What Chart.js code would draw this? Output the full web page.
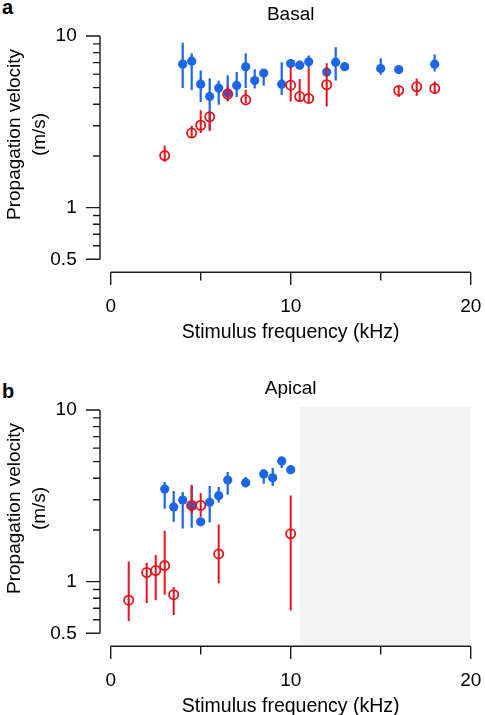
<!DOCTYPE html>
<html>
<head>
<meta charset="utf-8">
<script src="https://cdn.jsdelivr.net/npm/chart.js@4/dist/chart.umd.min.js"></script>
<style>
  html, body { margin: 0; padding: 0; background: #fff; }
  body { width: 485px; height: 715px; overflow: hidden; position: relative; font-family: "Liberation Sans", Arial, sans-serif; }
  canvas { position: absolute; left: 0; }
  .lbl { position: absolute; left: 2px; font-weight: bold; font-size: 20px; line-height: 20px; color: #000; }
</style>
</head>
<body>
<div class="lbl" style="top:-3px">a</div>
<div class="lbl" style="top:381px">b</div>
<canvas id="chartA" width="485" height="342" style="top:0px"></canvas>
<canvas id="chartB" width="485" height="342" style="top:374px"></canvas>
<script>
// ---------- Data ----------
const xTicks = [0, 10, 20];
const xMinorTicks = [5, 15];
const yTicks = [0.5, 1, 10];
const yMinorTicks = [0.6, 0.7, 0.8, 0.9, 2, 3, 4, 5, 6, 7, 8, 9];

// Panel a: Basal
const basalBlueX  = [4, 4.5, 5, 5.5, 6, 6.5, 7, 7.5, 8, 8.5, 9.5, 10, 10.5, 11, 12, 12.5, 13, 15, 16, 18];
const basalBlueY  = [6.85, 7.13, 5.24, 4.44, 4.97, 4.65, 5.15, 6.61, 5.5, 6.08, 5.24, 6.91, 6.76, 7.07, 6.16, 7.04, 6.63, 6.46, 6.37, 6.85];
const basalBlueLo = [4.97, 4.85, 4.12, 2.85, 3.98, 4.25, 4.41, 4.97, 4.95, 5.13, 4.53, 6.6, 6.41, 6.48, 5.8, 5.5, 6.3, 5.94, 6.1, 6.21];
const basalBlueHi = [9.14, 7.93, 6.29, 5.68, 5.48, 5.91, 6.16, 7.93, 6.41, 6.35, 7.04, 7.26, 7.18, 7.69, 6.6, 8.6, 7.0, 7.42, 6.6, 7.79];

const basalRedX  = [3, 4.5, 5, 5.5, 6.5, 7.5, 10, 10.5, 11, 12, 16, 17, 18];
const basalRedY  = [2.01, 2.72, 3.02, 3.38, 4.58, 4.25, 5.17, 4.44, 4.33, 5.2, 4.82, 5.06, 4.95];
const basalRedLo = [1.85, 2.55, 2.72, 2.8, 4.15, 4.07, 4.16, 4.16, 4.07, 3.89, 4.41, 4.49, 4.6];
const basalRedHi = [2.3, 3.0, 3.69, 3.63, 5.1, 4.86, 6.63, 5.61, 6.49, 6.94, 5.13, 5.65, 5.43];

// Panel b: Apical
const apicalBlueX  = [3, 3.5, 4, 4.5, 5, 5.5, 6, 6.5, 7.5, 8.5, 9, 9.5, 10];
const apicalBlueY  = [3.46, 2.72, 2.99, 2.78, 2.23, 2.9, 3.17, 3.91, 3.77, 4.24, 4.03, 5.04, 4.49];
const apicalBlueLo = [2.66, 2.23, 2.04, 2.06, 2.15, 2.21, 2.89, 3.21, 3.54, 3.72, 3.61, 4.59, 4.3];
const apicalBlueHi = [3.81, 3.37, 3.33, 3.6, 2.35, 3.61, 3.56, 4.35, 4.07, 4.51, 4.59, 5.36, 4.7];

const apicalRedX  = [1, 2, 2.5, 3, 3.5, 4.5, 5, 6, 10];
const apicalRedY  = [0.78, 1.13, 1.16, 1.24, 0.84, 2.78, 2.78, 1.45, 1.9];
const apicalRedLo = [0.59, 0.75, 0.78, 0.84, 0.64, 2.5, 2.38, 0.98, 0.68];
const apicalRedHi = [1.31, 1.29, 1.43, 1.98, 0.93, 3.67, 3.28, 2.15, 3.18];

const apicalShade = [10.5, 20];   // x-range of grey region (kHz)

// ---------- Styles ----------
const BLUE = '#1c64e8';
const RED = '#e2141c';
const AXIS = '#1a1a1a';
const FONT = '"Liberation Sans", Arial, Helvetica, sans-serif';
Chart.defaults.font.family = FONT;
Chart.defaults.color = '#000';
const TITLE_SHIFT = '     '; // leading spaces nudge the rotated axis title upward

function pts(xs, ys) { return xs.map((x, i) => ({ x: x, y: ys[i] })); }

const errorBarPlugin = {
  id: 'errorBars',
  beforeDatasetDraw(chart, args) {
    const ds = chart.data.datasets[args.index];
    if (!ds.errLo) return;
    const xs = chart.scales.x, ys = chart.scales.y, ctx = chart.ctx;
    ctx.save();
    ctx.strokeStyle = ds.errColor;
    ctx.lineWidth = ds.errWidth;
    ctx.lineCap = 'butt';
    ctx.beginPath();
    ds.data.forEach((p, i) => {
      const px = xs.getPixelForValue(p.x);
      ctx.moveTo(px, ys.getPixelForValue(ds.errLo[i]));
      ctx.lineTo(px, ys.getPixelForValue(ds.errHi[i]));
    });
    ctx.stroke();
    ctx.restore();
  }
};

const axesPlugin = {
  id: 'offsetAxes',
  beforeDatasetsDraw(chart) {
    const xs = chart.scales.x, ys = chart.scales.y, ctx = chart.ctx;
    const area = chart.chartArea;
    const yAxisX = area.left - 10.7;
    const xAxisY = area.bottom + 13;
    ctx.save();
    const shade = chart.options.plugins.offsetAxes && chart.options.plugins.offsetAxes.shade;
    if (shade) {
      const x0 = xs.getPixelForValue(shade[0]);
      const x1 = xs.getPixelForValue(shade[1]);
      ctx.fillStyle = '#f4f4f4';
      ctx.fillRect(x0, area.top - 3, x1 - x0, xAxisY - 1.5 - (area.top - 3));
    }
    ctx.strokeStyle = AXIS;
    ctx.lineWidth = 1.4;
    ctx.lineCap = 'butt';
    ctx.beginPath();
    // y axis line
    ctx.moveTo(yAxisX, ys.getPixelForValue(yTicks[yTicks.length - 1]));
    ctx.lineTo(yAxisX, ys.getPixelForValue(yTicks[0]));
    yTicks.forEach(v => { const py = ys.getPixelForValue(v); ctx.moveTo(yAxisX, py); ctx.lineTo(yAxisX - 14, py); });
    yMinorTicks.forEach(v => { const py = ys.getPixelForValue(v); ctx.moveTo(yAxisX, py); ctx.lineTo(yAxisX - 7, py); });
    // x axis line
    ctx.moveTo(xs.getPixelForValue(xTicks[0]), xAxisY);
    ctx.lineTo(xs.getPixelForValue(xTicks[xTicks.length - 1]), xAxisY);
    xTicks.forEach(v => { const px = xs.getPixelForValue(v); ctx.moveTo(px, xAxisY); ctx.lineTo(px, xAxisY + 12.7); });
    xMinorTicks.forEach(v => { const px = xs.getPixelForValue(v); ctx.moveTo(px, xAxisY); ctx.lineTo(px, xAxisY + 8.3); });
    ctx.stroke();
    ctx.restore();
  }
};

function makeChart(id, title, redX, redY, redLo, redHi, blueX, blueY, blueLo, blueHi, shade) {
  return new Chart(document.getElementById(id), {
    type: 'scatter',
    data: {
      datasets: [
        {
          data: pts(redX, redY), errLo: redLo, errHi: redHi, errColor: RED, errWidth: 2,
          pointStyle: 'circle', pointRadius: 4.6, pointBorderWidth: 1.8,
          pointBorderColor: RED, pointBackgroundColor: 'rgba(255,255,255,0)', showLine: false
        },
        {
          data: pts(blueX, blueY), errLo: blueLo, errHi: blueHi, errColor: BLUE, errWidth: 2.2,
          pointStyle: 'circle', pointRadius: 4.6, pointBorderWidth: 0,
          pointBorderColor: BLUE, pointBackgroundColor: BLUE, showLine: false
        }
      ]
    },
    options: {
      responsive: false,
      animation: false,
      events: [],
      layout: { padding: { left: 0, right: 14.3, top: 0, bottom: 0 } },
      plugins: {
        legend: { display: false },
        tooltip: { enabled: false },
        title: {
          display: true, text: title, color: '#000', fullSize: false,
          font: { size: 19, weight: 'normal', lineHeight: 1.2 },
          padding: { top: 3, bottom: 10.2 }
        },
        offsetAxes: { shade: shade }
      },
      scales: {
        x: {
          type: 'linear', min: 0, max: 20,
          afterBuildTicks: s => { s.ticks = xTicks.map(v => ({ value: v })); },
          afterFit: s => { s.height = 82.7; },
          ticks: { autoSkip: false, maxRotation: 0, padding: 0, font: { size: 19 }, color: '#000', callback: v => String(v) },
          grid: { display: true, drawOnChartArea: false, drawTicks: true, tickLength: 36, color: 'rgba(0,0,0,0)', tickColor: 'rgba(0,0,0,0)' },
          border: { display: false },
          title: { display: true, text: 'Stimulus frequency (kHz)', color: '#000', font: { size: 19.5, lineHeight: 1.0 }, padding: { top: 0, bottom: 0 } }
        },
        y: {
          type: 'logarithmic', min: 0.5, max: 10,
          afterBuildTicks: s => { s.ticks = yTicks.map(v => ({ value: v })); },
          afterFit: s => { s.width = 110.7; },
          ticks: { autoSkip: false, padding: 0, font: { size: 19 }, color: '#000', callback: v => String(v) },
          grid: { display: true, drawOnChartArea: false, drawTicks: true, tickLength: 34, color: 'rgba(0,0,0,0)', tickColor: 'rgba(0,0,0,0)' },
          border: { display: false },
          title: { display: true, text: [TITLE_SHIFT + 'Propagation velocity', TITLE_SHIFT + '(m/s)'], color: '#000', font: { size: 19, lineHeight: 1.3 }, padding: { top: 2.5, bottom: 0 } }
        }
      }
    },
    plugins: [axesPlugin, errorBarPlugin]
  });
}

makeChart('chartA', 'Basal', basalRedX, basalRedY, basalRedLo, basalRedHi, basalBlueX, basalBlueY, basalBlueLo, basalBlueHi, null);
makeChart('chartB', 'Apical', apicalRedX, apicalRedY, apicalRedLo, apicalRedHi, apicalBlueX, apicalBlueY, apicalBlueLo, apicalBlueHi, apicalShade);
</script>
</body>
</html>
